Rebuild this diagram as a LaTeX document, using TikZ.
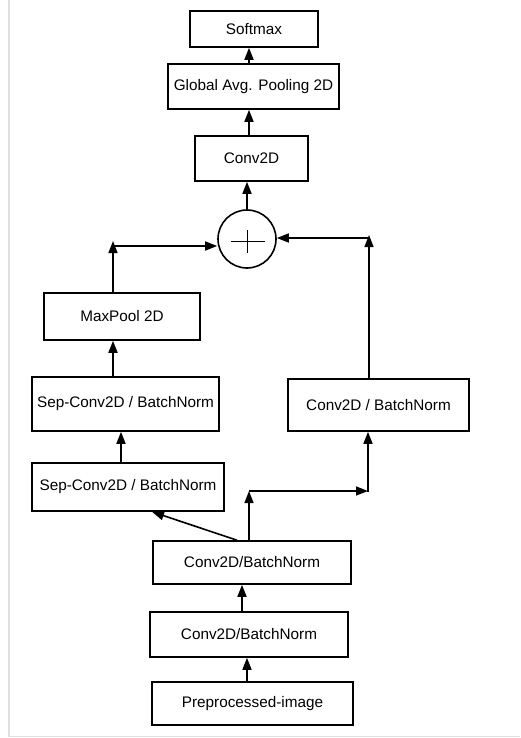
\documentclass[tikz,border=0pt]{standalone}
\usepackage{fontspec}
\setmainfont{Liberation Sans}
\usetikzlibrary{arrows.meta}
\begin{document}
\begin{tikzpicture}[x=1pt,y=-1pt,
  blk/.style={draw, line width=1.6pt, inner sep=0pt, font=\fontsize{15.3}{17}\selectfont},
  arr/.style={line width=1.6pt, -{Triangle[length=12pt,width=9pt]}},
  ln/.style={line width=1.6pt},
  frame/.style={draw=black!12, line width=1.5pt}]
\useasboundingbox (0,0) rectangle (520,738);
\draw[frame] (8.8,0) -- (8.8,736.5) -- (520,736.5);
% blocks
\node[blk, minimum width=128pt, minimum height=36pt] (soft) at (254,29) {Softmax};
\node[blk, minimum width=171pt, minimum height=45pt] (gap) at (253.5,86.5) {Global Avg. Pooling 2D};
\node[blk, minimum width=113pt, minimum height=45pt] (conv) at (251.5,158.5) {Conv2D};
\node[draw, circle, line width=1.6pt, minimum size=58pt, inner sep=0pt] (add) at (247,239) {};
\node[blk, minimum width=156pt, minimum height=47pt] (mp) at (122,316.5) {MaxPool 2D};
\node[blk, minimum width=187pt, minimum height=54pt] (sep2) at (125.5,404) {Sep-Conv2D / BatchNorm};
\node[blk, minimum width=192pt, minimum height=48pt] (sep1) at (128,487) {Sep-Conv2D / BatchNorm};
\node[blk, minimum width=181pt, minimum height=52pt] (cbr) at (378.5,405) {Conv2D / BatchNorm};
\node[blk, minimum width=198pt, minimum height=43pt] (cb2) at (252,562.5) {Conv2D/BatchNorm};
\node[blk, minimum width=198pt, minimum height=45pt] (cb1) at (249,634.5) {Conv2D/BatchNorm};
\node[blk, minimum width=201pt, minimum height=43pt] (pre) at (252.5,703.5) {Preprocessed-image};
% plus sign
\draw[line width=0.9pt] ([shift={(-16,2.5)}]add.center) -- ([shift={(18,2.5)}]add.center);
\draw[line width=0.9pt] ([shift={(0,-9)}]add.center) -- ([shift={(0,14)}]add.center);
% coordinates
\coordinate (a1) at (247,0);
\coordinate (a2) at (242,0);
\coordinate (d1) at (237,0);
\coordinate (d2) at (152,0);
\coordinate (up) at (249,491);
\coordinate (rt) at (368,491);
\coordinate (s12) at (121,0);
\coordinate (s2m) at (113,0);
\coordinate (lt) at (113,241);
\coordinate (lh) at (113,246);
\coordinate (rtop) at (369,235);
\coordinate (rh) at (369,238);
\coordinate (c1) at (247,0);
\coordinate (c2) at (249,0);
% connectors
\draw[arr] (pre.north -| a1) -- (cb1.south -| a1);
\draw[arr] (cb1.north -| a2) -- (cb2.south -| a2);
\draw[arr] (cb2.north -| d1) -- (sep1.south -| d2);
\draw[arr] (cb2.north -| up) -- (up);
\draw[arr] (up) -- (rt);
\draw[ln] (rt) -- ([yshift=-0.8pt]rt);
\draw[arr] (rt) -- (cbr.south -| rt);
\draw[arr] (sep1.north -| s12) -- (sep2.south -| s12);
\draw[arr] (sep2.north -| s2m) -- (mp.south -| s2m);
\draw[arr] (mp.north -| lt) -- (lt);
\draw[arr] (lh) -- (add.west |- lh);
\draw[arr] (cbr.north -| rtop) -- (rtop);
\draw[arr] (rh) -- (add.east |- rh);
\draw[arr] (add.north -| c1) -- (conv.south -| c1);
\draw[arr] (conv.north -| c2) -- (gap.south -| c2);
\draw[arr] (gap.north -| c2) -- (soft.south -| c2);
\end{tikzpicture}
\end{document}
